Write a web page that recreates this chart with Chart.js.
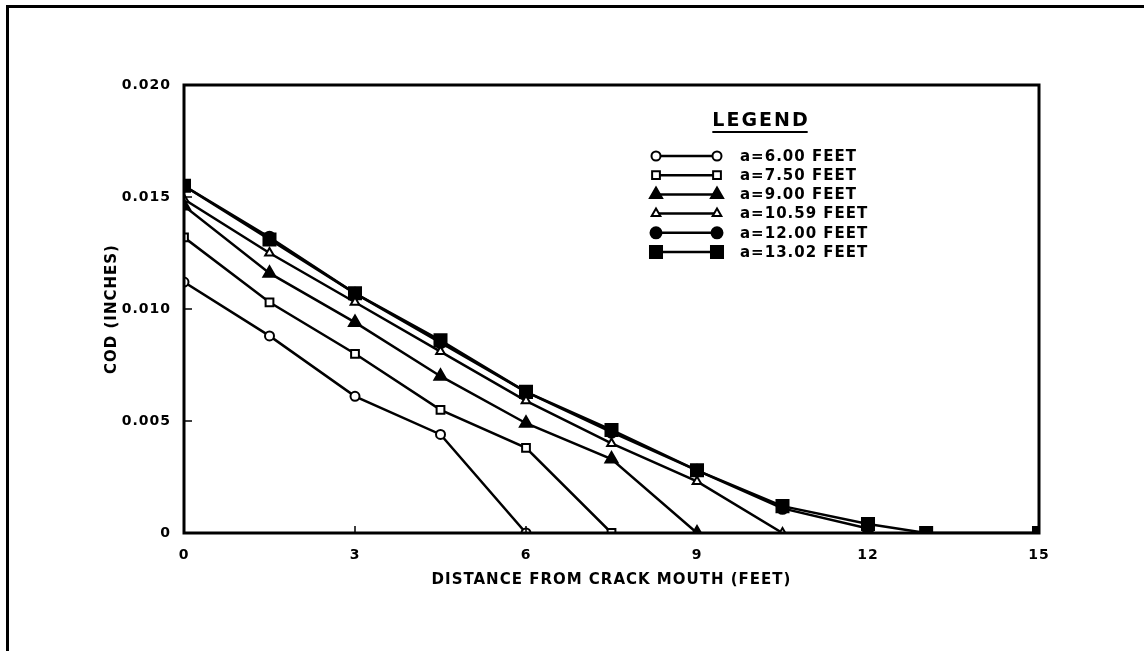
<!DOCTYPE html>
<html>
<head>
<meta charset="utf-8">
<script src="https://cdn.jsdelivr.net/npm/chart.js@4"></script>
<style>
  html, body { margin: 0; padding: 0; background: #fff; }
  canvas { display: block; }
</style>
</head>
<body>
<canvas id="cod_chart" width="1144" height="651"></canvas>
<script>
// crack lengths (legend) and the COD curves
const crackLabels = ['a=6.00 FEET', 'a=7.50 FEET', 'a=9.00 FEET', 'a=10.59 FEET', 'a=12.00 FEET', 'a=13.02 FEET'];

const dist600 = [0, 1.5, 3, 4.5, 6];
const cod600 = [0.0112, 0.0088, 0.0061, 0.0044, 0];

const dist750 = [0, 1.5, 3, 4.5, 6, 7.5];
const cod750 = [0.0132, 0.0103, 0.0080, 0.0055, 0.0038, 0];

const dist900 = [0, 1.5, 3, 4.5, 6, 7.5, 9];
const cod900 = [0.0146, 0.0116, 0.0094, 0.0070, 0.0049, 0.0033, 0];

const dist1059 = [0, 1.5, 3, 4.5, 6, 7.5, 9, 10.5];
const cod1059 = [0.0149, 0.0125, 0.0103, 0.0081, 0.0059, 0.0040, 0.0023, 0];

const dist1200 = [0, 1.5, 3, 4.5, 6, 7.5, 9, 10.5, 12];
const cod1200 = [0.0155, 0.0132, 0.0107, 0.0085, 0.0063, 0.0045, 0.0028, 0.0011, 0.0002];

const dist1302 = [0, 1.5, 3, 4.5, 6, 7.5, 9, 10.5, 12, 13.02, 15];
const cod1302 = [0.0155, 0.0131, 0.0107, 0.0086, 0.0063, 0.0046, 0.0028, 0.0012, 0.0004, 0, 0];

const xTicks = [0, 3, 6, 9, 12, 15];
const yTicks = [0, 0.005, 0.010, 0.015, 0.020];

const FONT = '"DejaVu Sans", "Liberation Sans", Arial, sans-serif';

function pts(xs, ys) {
    return xs.map((x, i) => ({ x: x, y: ys[i] }));
}

function series(label, xs, ys, style, radius, filled) {
    return {
        label: label,
        data: pts(xs, ys),
        borderColor: '#000',
        borderWidth: 2.5,
        pointStyle: style,
        pointRadius: radius,
        pointBorderWidth: 2,
        pointBorderColor: '#000',
        pointBackgroundColor: filled ? '#000' : '#fff',
        tension: 0
    };
}

// the scanned lettering is wide, so space it out a little
const spacing = {
    id: 'spacing',
    beforeDraw(chart) {
        chart.ctx.letterSpacing = '1px';
    }
};

// frame lines, inward ticks and the hand-made legend box
const decorations = {
    id: 'decorations',
    afterDraw(chart) {
        const ctx = chart.ctx;
        const area = chart.chartArea;
        const xs = chart.scales.x;
        const ys = chart.scales.y;
        ctx.save();

        // page border (top + left)
        ctx.fillStyle = '#000';
        ctx.fillRect(6, 5, 1138, 3);
        ctx.fillRect(6, 5, 3, 646);

        // plot frame
        ctx.strokeStyle = '#000';
        ctx.lineWidth = 3;
        ctx.strokeRect(area.left, area.top, area.right - area.left, area.bottom - area.top);

        // inward ticks
        ctx.lineWidth = 1.5;
        ctx.beginPath();
        xTicks.forEach(v => {
            const px = xs.getPixelForValue(v);
            ctx.moveTo(px, area.bottom);
            ctx.lineTo(px, area.bottom - 7);
        });
        yTicks.forEach(v => {
            const py = ys.getPixelForValue(v);
            ctx.moveTo(area.left, py);
            ctx.lineTo(area.left + 8, py);
        });
        ctx.stroke();

        // legend
        ctx.fillStyle = '#000';
        ctx.font = 'bold 19px ' + FONT;
        ctx.letterSpacing = '2px';
        ctx.textAlign = 'left';
        ctx.textBaseline = 'middle';
        const w = ctx.measureText('LEGEND').width;
        ctx.fillText('LEGEND', 761 - w / 2, 121);
        ctx.fillRect(761 - w / 2, 131, w - 2, 2);

        ctx.font = 'bold 15px ' + FONT;
        ctx.letterSpacing = '1px';
        chart.data.datasets.forEach((ds, i) => {
            const y = 156 + i * 19.2;
            ctx.strokeStyle = '#000';
            ctx.lineWidth = 2.5;
            ctx.beginPath();
            ctx.moveTo(656, y);
            ctx.lineTo(717, y);
            ctx.stroke();
            [656, 717].forEach(x => {
                ctx.fillStyle = ds.pointBackgroundColor;
                ctx.strokeStyle = '#000';
                ctx.lineWidth = ds.pointBorderWidth;
                Chart.helpers.drawPoint(ctx, {
                    pointStyle: ds.pointStyle,
                    radius: ds.pointRadius,
                    borderWidth: ds.pointBorderWidth,
                    rotation: 0
                }, x, y);
            });
            ctx.fillStyle = '#000';
            ctx.fillText(ds.label, 740, y + 1);
        });
        ctx.restore();
    }
};

const ctx = document.getElementById('cod_chart').getContext('2d');

new Chart(ctx, {
    type: 'line',
    data: {
        datasets: [
            series(crackLabels[0], dist600, cod600, 'circle', 4.5, false),
            series(crackLabels[1], dist750, cod750, 'rect', 5.5, false),
            series(crackLabels[2], dist900, cod900, 'triangle', 7, true),
            series(crackLabels[3], dist1059, cod1059, 'triangle', 5, false),
            series(crackLabels[4], dist1200, cod1200, 'circle', 5.5, true),
            series(crackLabels[5], dist1302, cod1302, 'rect', 8.5, true)
        ]
    },
    options: {
        responsive: false,
        animation: false,
        layout: { padding: { top: 85, right: 105, bottom: 0, left: 0 } },
        plugins: {
            legend: { display: false },
            tooltip: { enabled: false }
        },
        scales: {
            x: {
                type: 'linear',
                min: 0,
                max: 15,
                afterFit(scale) { scale.height = 118; },
                afterBuildTicks(scale) { scale.ticks = xTicks.map(v => ({ value: v })); },
                grid: { display: false },
                border: { display: false },
                ticks: {
                    color: '#000',
                    padding: 6,
                    font: { family: FONT, size: 14, weight: 'bold' }
                },
                title: {
                    display: true,
                    text: 'DISTANCE FROM CRACK MOUTH (FEET)',
                    color: '#000',
                    padding: { top: 0, bottom: 62 },
                    font: { family: FONT, size: 15, weight: 'bold' }
                }
            },
            y: {
                type: 'linear',
                min: 0,
                max: 0.02,
                afterFit(scale) { scale.width = 184; },
                afterBuildTicks(scale) { scale.ticks = yTicks.map(v => ({ value: v })); },
                grid: { display: false },
                border: { display: false },
                ticks: {
                    color: '#000',
                    padding: 5,
                    font: { family: FONT, size: 14, weight: 'bold' },
                    callback: v => (v === 0 ? '0' : v.toFixed(3))
                },
                title: {
                    display: true,
                    text: 'COD (INCHES)',
                    color: '#000',
                    padding: { top: 103, bottom: 0 },
                    font: { family: FONT, size: 15, weight: 'bold' }
                }
            }
        }
    },
    plugins: [spacing, decorations]
});
</script>
</body>
</html>
